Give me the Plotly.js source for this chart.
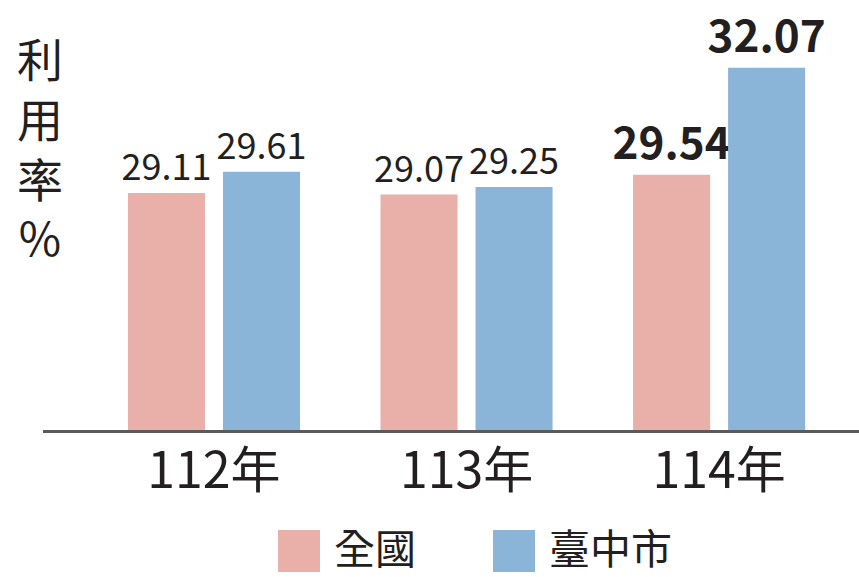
<!DOCTYPE html>
<html>
<head>
<meta charset="utf-8">
<script src="https://cdn.plot.ly/plotly-3.0.1.min.js"></script>
<style>html,body{margin:0;padding:0;background:#fff;}#chart{width:859px;height:577px;}</style>
</head>
<body>
<div id="chart"></div>
<script>
var categories = ['112年', '113年', '114年'];
var seriesNames = ['全國', '臺中市'];
var nationalValues = [29.11, 29.07, 29.54];
var taichungValues = [29.61, 29.25, 32.07];
var yTitleChars = ['利', '用', '率', '%'];

var FONT = '"Noto Sans CJK TC", "Noto Sans", sans-serif';
var PINK = '#e8b0a8';
var BLUE = '#8ab4d8';

function labels(vals) {
  return vals.map(function (v, i) {
    var s = v.toFixed(2);
    return i === vals.length - 1 ? '<b>' + s + '</b>' : s;
  });
}
function sizes(vals) {
  return vals.map(function (v, i) { return i === vals.length - 1 ? 44 : 36; });
}

var traces = [
  {
    type: 'bar', name: seriesNames[0], x: categories, y: nationalValues,
    marker: { color: PINK }, width: 0.305, offset: -0.3406,
    text: labels(nationalValues), textposition: 'outside', cliponaxis: false,
    constraintext: 'none',
    textfont: { family: FONT, size: sizes(nationalValues), color: '#231f20' },
    hoverinfo: 'skip', showlegend: false
  },
  {
    type: 'bar', name: seriesNames[1], x: categories, y: taichungValues,
    marker: { color: BLUE }, width: 0.305, offset: 0.0356,
    text: labels(taichungValues), textposition: 'outside', cliponaxis: false,
    constraintext: 'none',
    textfont: { family: FONT, size: sizes(taichungValues), color: '#231f20' },
    hoverinfo: 'skip', showlegend: false
  }
];

function px(x) { return (x - 43) / 816; }
function py(y) { return (430 - y) / 410; }

var layout = {
  width: 859, height: 577,
  margin: { l: 43, r: 0, t: 20, b: 147 },
  paper_bgcolor: '#ffffff', plot_bgcolor: '#ffffff',
  font: { family: FONT, color: '#231f20' },
  barmode: 'group',
  showlegend: false,
  xaxis: {
    type: 'category', range: [-0.677, 2.554], fixedrange: true,
    showline: true, linecolor: '#5a5a5a', linewidth: 3,
    showgrid: false, zeroline: false, ticks: '',
    tickfont: { family: FONT, size: 50, color: '#231f20' },
    ticklabelstandoff: -5
  },
  yaxis: {
    range: [23.5, 33.2], fixedrange: true,
    visible: false, showgrid: false, zeroline: false
  },
  shapes: [
    { type: 'rect', xref: 'paper', yref: 'paper', x0: px(278), x1: px(320), y0: py(530), y1: py(572), fillcolor: PINK, line: { width: 0 } },
    { type: 'rect', xref: 'paper', yref: 'paper', x0: px(493), x1: px(535), y0: py(530), y1: py(572), fillcolor: BLUE, line: { width: 0 } }
  ],
  annotations: [
    { xref: 'paper', yref: 'paper', x: px(40), y: py(146), xanchor: 'center', yanchor: 'middle',
      text: yTitleChars.join('<br>'), showarrow: false, font: { family: FONT, size: 46, color: '#231f20' } },
    { xref: 'paper', yref: 'paper', x: px(332), y: py(546), xanchor: 'left', yanchor: 'middle',
      text: seriesNames[0], showarrow: false, font: { family: FONT, size: 41, color: '#231f20' } },
    { xref: 'paper', yref: 'paper', x: px(547), y: py(546), xanchor: 'left', yanchor: 'middle',
      text: seriesNames[1], showarrow: false, font: { family: FONT, size: 41, color: '#231f20' } }
  ]
};

Plotly.newPlot('chart', traces, layout, { displayModeBar: false, staticPlot: true });
</script>
</body>
</html>
